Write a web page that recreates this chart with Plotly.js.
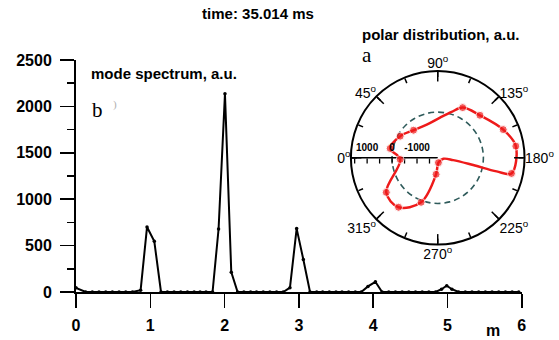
<!DOCTYPE html>
<html><head><meta charset="utf-8">
<script src="https://cdn.plot.ly/plotly-3.0.1.min.js"></script>
<style>html,body{margin:0;padding:0;background:#fff}#chart{width:559px;height:340px}</style>
</head><body><div id="chart"></div>
<script>
// ---- mode spectrum (main chart) ----
const modeM = [0, 0.13, 0.22, 0.31, 0.40, 0.49, 0.58, 0.67, 0.76, 0.87, 0.956, 1.054, 1.144,
  1.23, 1.32, 1.41, 1.50, 1.59, 1.67, 1.75, 1.838, 1.919, 2.005, 2.09, 2.175,
  2.26, 2.35, 2.43, 2.52, 2.61, 2.70, 2.79, 2.88, 2.97, 3.06, 3.15,
  3.24, 3.32, 3.41, 3.50, 3.58, 3.67, 3.76, 3.84, 3.93, 4.03, 4.12,
  4.21, 4.30, 4.39, 4.48, 4.57, 4.66, 4.75, 4.84, 4.92, 4.99, 5.06, 5.15,
  5.24, 5.33, 5.42, 5.51, 5.60, 5.69, 5.78, 5.87, 5.96];
const modeAmp = [45, 0, 0, 0, 0, 0, 0, 0, 0, 20, 700, 546, 0,
  0, 0, 0, 0, 0, 0, 0, 0, 679, 2135, 214, 0,
  0, 0, 0, 0, 0, 0, 0, 47, 683, 350, 0,
  0, 0, 0, 0, 0, 0, 0, 0, 60, 110, 0,
  0, 0, 0, 0, 0, 0, 0, 0, 30, 67, 30, 0,
  0, 0, 0, 0, 0, 0, 0, 0, 0];
const mTicks = [0, 1, 2, 3, 4, 5, 6];
const ampTicks = [0, 500, 1000, 1500, 2000, 2500];
const ampMinorTicks = [250, 750, 1250, 1750, 2250];

// ---- polar distribution (inset) ----
const polarTheta = [11.1, 29.9, 48.7, 71.7, 93.3, 106.9, 116.4, 134.8, 156.7, 171.5, 192,
  193, 191.6, 188.5, 190, 262, 275.7, 290.5, 308.4, 326.1, 357.5, 11.1];
const polarR = [112, -92, -360, -428, -216, 92, 416, 572, 1028, 1336, 1192,
  592, -376, -1200, -1600, -1632, -1164, 76, 700, 656, -324, 112];
const polarSampled = [1, 1, 1, 0, 0, 0, 1, 1, 1, 1, 1, 0, 0, 0, 0, 1, 1, 1, 1, 1, 1, 0];
const refTheta = [0, 15, 30, 45, 60, 75, 90, 105, 120, 135, 150, 165, 180, 195, 210, 225, 240, 255, 270, 285, 300, 315, 330, 345, 360];
const refR = [0, 0, 0, 0, 0, 0, 0, 0, 0, 0, 0, 0, 0, 0, 0, 0, 0, 0, 0, 0, 0, 0, 0, 0, 0];
const radialRange = [-1830, 1650];
const radialMinorTicks = [-1500, -1000, -500, 0, 500, 1000, 1500];
const radialTicks = [-1000, 0, 1000];
const radialText = ['-1000', '0', '1000'];
const minorAngles = [0, 22.5, 45, 67.5, 90, 112.5, 135, 157.5, 180, 202.5, 225, 247.5, 270, 292.5, 315, 337.5];
const majorAngles = [0, 45, 90, 135, 180, 225, 270, 315];
const majorAngleText = ['0<sup>o</sup>', '45<sup>o</sup>', '90<sup>o</sup>', '135<sup>o</sup>',
  '180<sup>o</sup>', '225<sup>o</sup>', '270<sup>o</sup>', '315<sup>o</sup>'];

const FONT = 'Liberation Sans, Arial, Helvetica, sans-serif';
const SERIF = 'Liberation Serif, Times New Roman, serif';
const polarDomain = {x: [0.5810, 0.9485], y: [0.2043, 0.9527]};

const traces = [
  {type: 'scatter', x: modeM, y: modeAmp, mode: 'lines+markers', cliponaxis: false,
   line: {color: '#000', width: 2}, marker: {color: '#000', size: 3.5}, hoverinfo: 'skip'},
  {type: 'scatterpolar', subplot: 'polar', r: refR, theta: refTheta, mode: 'lines',
   line: {color: '#2f5b5b', width: 1.6, dash: '6px,4px', shape: 'spline'}, hoverinfo: 'skip'},
  {type: 'scatterpolar', subplot: 'polar2', r: polarR, theta: polarTheta, mode: 'lines+markers',
   line: {color: '#ee1a1a', width: 2.5, shape: 'spline', smoothing: 1},
   marker: {color: '#ee1a1a', size: polarSampled.map(s => s ? 8 : 0)}, hoverinfo: 'skip'}
];

const axisCommon = {showline: true, linewidth: 2, linecolor: '#000', showgrid: false, zeroline: false,
  ticks: 'outside', ticklen: 14, tickwidth: 1.5, tickcolor: '#000',
  tickfont: {family: FONT, size: 16, weight: 'bold', color: '#000'}};

const layout = {
  width: 559, height: 340,
  margin: {l: 76, r: 10, t: 60, b: 47.5, pad: 0},
  paper_bgcolor: '#fff', plot_bgcolor: 'rgba(0,0,0,0)', showlegend: false,
  font: {family: FONT, color: '#000'},
  title: {text: 'time: 35.014 ms', x: 0.4615, xref: 'container', xanchor: 'center',
    y: 1 - 14 / 340, yref: 'container', yanchor: 'middle',
    font: {family: FONT, size: 15, weight: 'bold', color: '#000'}},
  xaxis: Object.assign({}, axisCommon, {domain: [0, 0.9424], range: [0, 6], tickvals: mTicks, ticklabelstandoff: 4}),
  yaxis: Object.assign({}, axisCommon, {range: [0, 2500], tickvals: ampTicks, ticklabelstandoff: 5,
    minor: {tickvals: ampMinorTicks, ticks: 'outside', ticklen: 7, tickwidth: 1.5, tickcolor: '#000', showgrid: false}}),
  polar: {domain: polarDomain, bgcolor: '#fff',
    angularaxis: {rotation: 180, direction: 'clockwise', tickvals: minorAngles, showticklabels: false,
      ticks: 'inside', ticklen: 5, tickwidth: 1.5, tickcolor: '#000', showline: true, linewidth: 2,
      linecolor: '#000', showgrid: false},
    radialaxis: {range: radialRange, angle: 180, side: 'counterclockwise', tickvals: radialMinorTicks,
      showticklabels: false, ticks: 'outside', ticklen: 5, tickwidth: 1.3, tickcolor: '#000',
      showline: true, linewidth: 1.5, linecolor: '#000', showgrid: false}},
  polar2: {domain: polarDomain, bgcolor: 'rgba(0,0,0,0)',
    angularaxis: {rotation: 180, direction: 'clockwise', tickvals: majorAngles, ticktext: majorAngleText,
      ticks: 'inside', ticklen: 10, tickwidth: 1.5, tickcolor: '#000', showline: false, showgrid: false,
      tickfont: {family: FONT, size: 14, color: '#000'}},
    radialaxis: {range: radialRange, angle: 180, side: 'clockwise', tickangle: 180,
      tickvals: radialTicks, ticktext: radialText,
      ticks: 'outside', ticklen: 4, tickcolor: 'rgba(0,0,0,0)', showline: false, showgrid: false,
      tickfont: {family: FONT, size: 10, weight: 'bold', color: '#000'}}},
  annotations: [
    {text: 'mode spectrum, a.u.', xref: 'paper', yref: 'paper', x: 0.0285, y: 0.9398,
     xanchor: 'left', yanchor: 'middle', showarrow: false, font: {family: FONT, size: 15, weight: 'bold'}},
    {text: 'b', xref: 'paper', yref: 'paper', x: 0.0306, y: 0.7866,
     xanchor: 'left', yanchor: 'middle', showarrow: false, font: {family: SERIF, size: 21, color: '#000'}},
    {text: ')', xref: 'paper', yref: 'paper', x: 0.075, y: 0.81,
     xanchor: 'left', yanchor: 'middle', showarrow: false, font: {family: SERIF, size: 11, color: '#b0b0b0'}},
    {text: 'polar distribution, a.u.', xref: 'paper', yref: 'paper', x: 0.6008, y: 1.1118,
     xanchor: 'left', yanchor: 'middle', showarrow: false, font: {family: FONT, size: 15, weight: 'bold'}},
    {text: 'a', xref: 'paper', yref: 'paper', x: 0.6, y: 1.0232,
     xanchor: 'left', yanchor: 'middle', showarrow: false, font: {family: SERIF, size: 21, color: '#000'}},
    {text: 'm', xref: 'paper', yref: 'paper', x: 0.8817, y: -0.165,
     xanchor: 'center', yanchor: 'middle', showarrow: false, font: {family: FONT, size: 16, weight: 'bold'}}
  ]
};

Plotly.newPlot('chart', traces, layout, {staticPlot: true, displayModeBar: false});
</script>
</body></html>
